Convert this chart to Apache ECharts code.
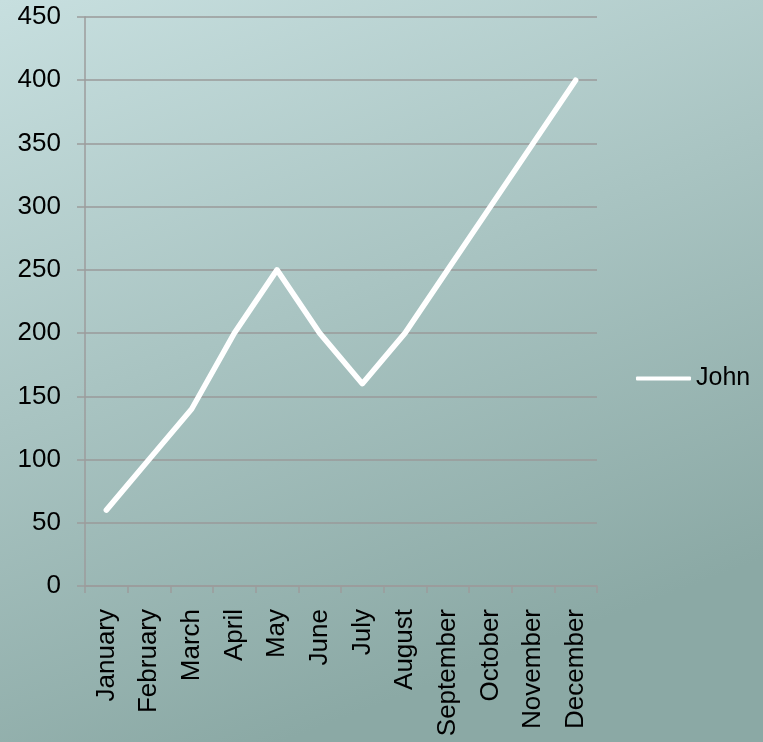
<!DOCTYPE html>
<html>
<head>
<meta charset="utf-8">
<script src="https://cdn.jsdelivr.net/npm/echarts@6/dist/echarts.min.js"></script>
<style>
html,body{margin:0;padding:0;}
#chart{width:763px;height:742px;}
</style>
</head>
<body>
<div id="chart"></div>
<script>
var categories = ['January','February','March','April','May','June','July','August','September','October','November','December'];
var johnValues = [60, 100, 140, 200, 250, 200, 160, 200, 250, 300, 350, 400];
var seriesName = 'John';

var chart = echarts.init(document.getElementById('chart'));
chart.setOption({
  animation: false,
  backgroundColor: new echarts.graphic.LinearGradient(0, 0, 0.37, 1, [
    {offset: 0, color: '#c7dfdf'},
    {offset: 1, color: '#8ba9a5'}
  ]),
  textStyle: {fontFamily: 'Liberation Sans, Arial, sans-serif'},
  grid: {left: 85, right: 166, top: 17, bottom: 156, containLabel: false},
  legend: {
    data: [seriesName],
    orient: 'vertical',
    left: 636,
    top: 366,
    padding: 0,
    icon: 'roundRect',
    itemWidth: 55,
    itemHeight: 4,
    itemGap: 6,
    textStyle: {fontSize: 25, color: '#000', padding: [0,0,0,0]}
  },
  xAxis: {
    type: 'category',
    data: categories,
    boundaryGap: true,
    axisLine: {show: true, lineStyle: {color: '#9c9c9c', width: 1.5}},
    axisTick: {show: true, length: 7, lineStyle: {color: '#9c9c9c', width: 1.5}},
    axisLabel: {rotate: 90, fontSize: 26, color: '#000', margin: 23, interval: 0}
  },
  yAxis: {
    type: 'value',
    min: 0,
    max: 450,
    interval: 50,
    axisLine: {show: true, lineStyle: {color: '#9c9c9c', width: 1.5}},
    axisTick: {show: true, length: 8, lineStyle: {color: '#9c9c9c', width: 1.5}},
    axisLabel: {fontSize: 26, color: '#000', margin: 24},
    splitLine: {show: true, lineStyle: {color: '#9a9a9a', width: 1.5}}
  },
  series: [{
    name: seriesName,
    type: 'line',
    data: johnValues,
    symbol: 'none',
    color: '#ffffff',
    lineStyle: {color: '#ffffff', width: 5.5, cap: 'round', join: 'round'}
  }]
});
</script>
</body>
</html>
